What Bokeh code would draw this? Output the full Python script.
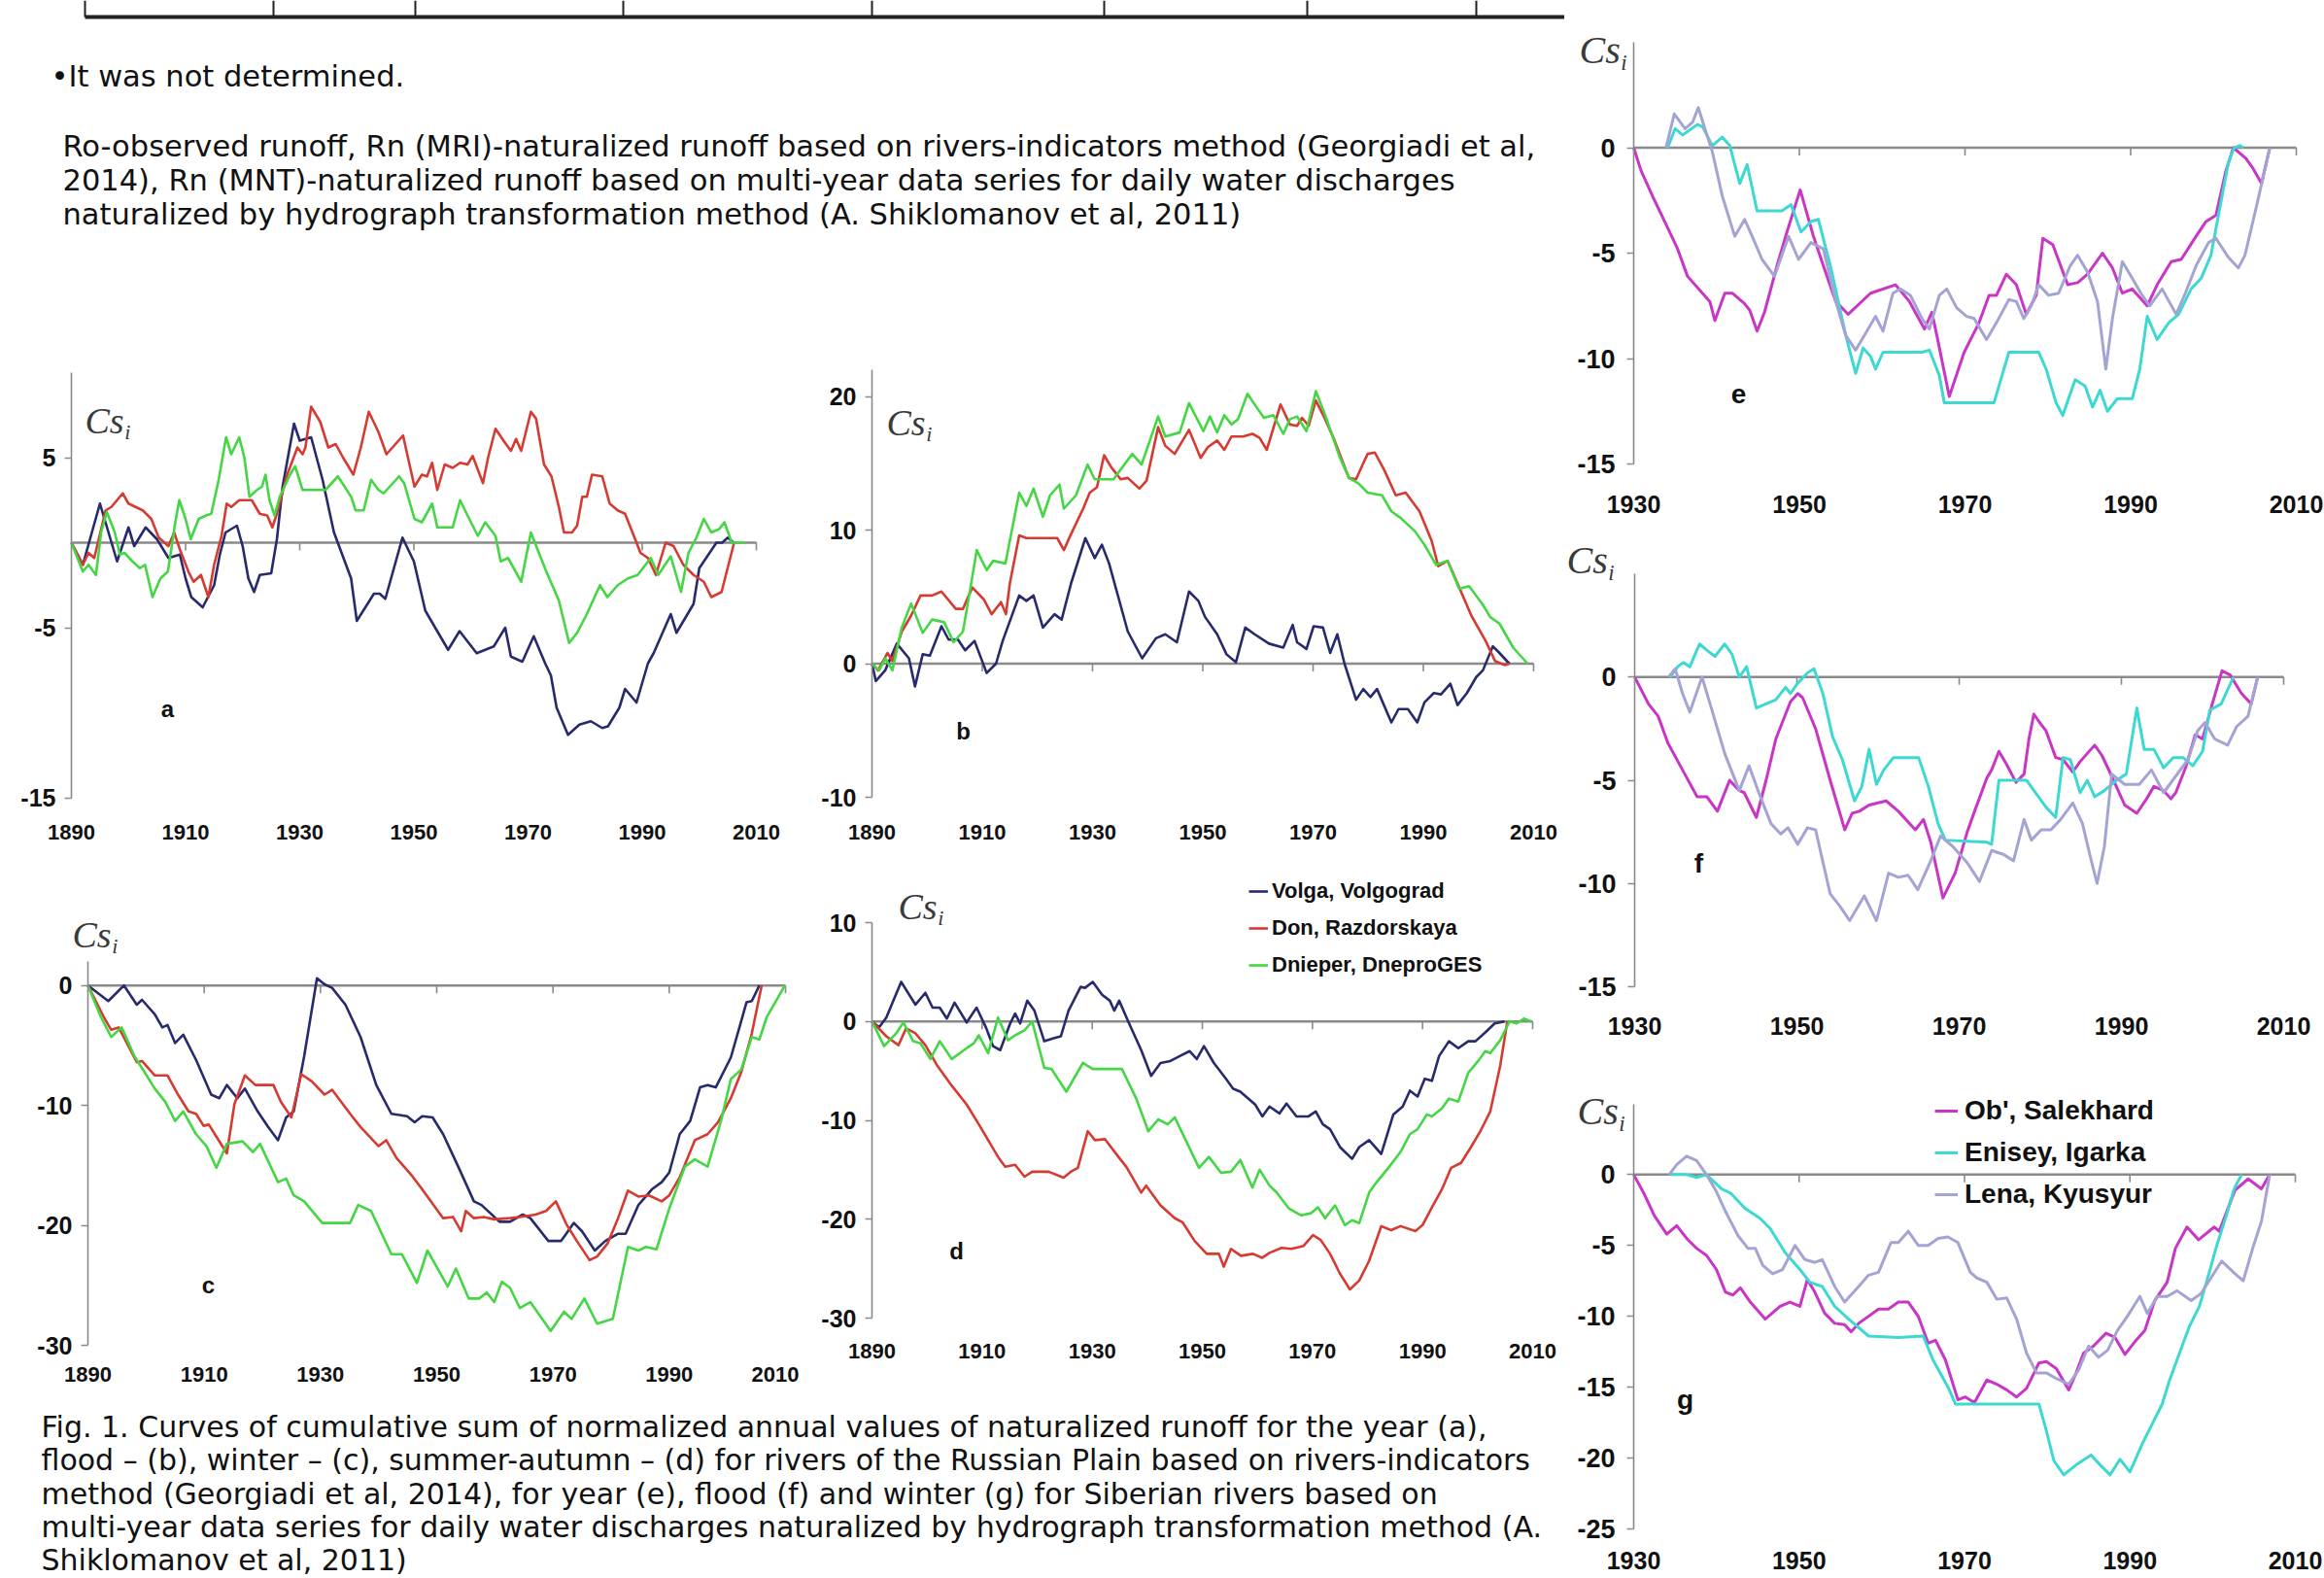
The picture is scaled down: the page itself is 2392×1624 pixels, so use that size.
from bokeh.plotting import figure
from bokeh.models import Range1d, FixedTicker, Label, Legend, LegendItem
from bokeh.layouts import row, column
from bokeh.embed import file_html
from bokeh.resources import INLINE
from bokeh.core.properties import value

# ---------------------------------------------------------------- data
rp_xticks = [1890, 1910, 1930, 1950, 1970, 1990, 2010]
sib_xticks = [1930, 1950, 1970, 1990, 2010]
a_yticks = [-15, -5, 5]
b_yticks = [-10, 0, 10, 20]
c_yticks = [-30, -20, -10, 0]
d_yticks = [-30, -20, -10, 0, 10]
e_yticks = [-15, -10, -5, 0]
f_yticks = [-15, -10, -5, 0]
g_yticks = [-25, -20, -15, -10, -5, 0]

rp_names = ["Volga, Volgograd", "Don, Razdorskaya", "Dnieper, DneproGES"]
sib_names = ["Ob', Salekhard", "Enisey, Igarka", "Lena, Kyusyur"]

# (a) year
a_volga = [(1890,0),(1892,-1.3),(1895,2.3),(1898,-1.1),(1900,0.9),(1901,-0.2),(1903,0.9),(1905,0.2),(1907,-0.9),(1909,-0.7),
           (1910,-2.1),(1911,-3.2),(1913,-3.8),(1915,-2.5),(1916,-0.7),(1917,0.6),(1919,1.0),(1920,-0.2),(1921,-2.1),(1922,-2.9),
           (1923,-1.9),(1925,-1.8),(1926,0.2),(1927,3.3),(1929,7.0),(1930,6.0),(1932,6.2),(1934,3.7),(1936,0.6),(1939,-2.1),
           (1940,-4.6),(1943,-3.0),(1944,-3.0),(1945,-3.3),(1948,0.3),(1950,-1.1),(1952,-4.0),(1956,-6.3),(1958,-5.2),(1961,-6.5),
           (1964,-6.1),(1966,-5.0),(1967,-6.7),(1969,-7.0),(1971,-5.5),(1973,-7.1),(1974,-7.8),(1975,-9.7),(1977,-11.3),(1979,-10.7),
           (1981,-10.5),(1983,-10.9),(1984,-10.8),(1986,-9.7),(1987,-8.6),(1989,-9.4),(1991,-7.1),(1992,-6.5),(1995,-4.2),(1996,-5.3),
           (1999,-3.6),(2000,-1.5),(2003,0.0),(2004,0.0),(2005,0.3),(2006,0.0)]
a_don = [(1890,0),(1892,-1.3),(1893,-0.6),(1894,-0.9),(1896,1.9),(1897,2.1),(1899,2.9),(1900,2.3),(1902.5,1.9),(1904,1.4),
         (1905.3,0.3),(1907,-0.2),(1908,0.6),(1909,-0.4),(1910.5,-1.7),(1911.4,-2.3),(1912.7,-1.9),(1914,-3.2),(1915,-1.3),(1916.3,0.4),
         (1917.2,2.3),(1918,2.1),(1919.4,2.5),(1921.6,2.5),(1923,1.7),(1924.3,1.6),(1925.2,0.9),(1926,1.7),(1927.8,4.0),(1929.6,5.6),
         (1930.5,5.2),(1931,5.6),(1932,8.0),(1933.6,7.1),(1935,5.6),(1936.3,5.8),(1937.6,5.0),(1939.4,4.0),(1940.7,5.6),(1942.1,7.7),
         (1943.8,6.5),(1945.2,5.2),(1948.1,6.3),(1950.1,3.3),(1951.4,4.0),(1952.3,3.9),(1953.2,4.7),(1954.1,3.1),(1955.4,4.6),(1956.8,4.4),
         (1958.1,4.7),(1959.4,4.6),(1960.3,5.1),(1962.1,3.5),(1963,5.0),(1964.3,6.7),(1965.7,6.0),(1967,5.4),(1967.9,6.1),(1968.8,5.4),
         (1970.5,7.7),(1971.4,7.3),(1972.8,4.6),(1974.1,3.9),(1975.4,2.1),(1976.3,0.6),(1977.7,0.6),(1978.6,1.0),(1979.5,2.7),(1980.3,2.7),
         (1981.2,4.0),(1983,3.9),(1984.3,2.3),(1985.7,1.9),(1987,1.7),(1988.3,0.6),(1989.7,-0.6),(1991,-0.9),(1992.4,-1.9),(1994.1,0.0),
         (1995.5,-0.2),(1997.2,-1.3),(1999,-1.9),(2000.8,-2.3),(2002.1,-3.2),(2003.9,-2.9),(2006.1,0.0)]
a_dnieper = [(1890,0),(1892,-1.7),(1893,-1.3),(1894.3,-1.9),(1895.2,0.6),(1896.2,1.8),(1897.6,0.6),(1898.5,-0.7),(1899.3,-0.6),(1900.7,-1.1),
             (1902,-1.5),(1902.9,-1.3),(1904.2,-3.2),(1905.6,-2.1),(1906.9,-1.7),(1908.2,1.2),(1908.9,2.5),(1910,1.4),(1910.9,0.2),(1912.3,1.4),
             (1913.6,1.6),(1914.5,1.7),(1915.8,3.7),(1917.1,6.2),(1918,5.2),(1919.4,6.2),(1920.3,5.0),(1921.2,2.7),(1922.5,3.1),(1923.4,3.3),
             (1924,4.0),(1924.7,2.5),(1925.6,1.6),(1926.5,2.7),(1928.3,4.0),(1929.2,4.5),(1930.5,3.1),(1934.5,3.1),(1936.7,3.9),(1939,2.7),
             (1939.8,1.9),(1941.2,1.9),(1942.5,3.7),(1943.8,3.1),(1944.7,2.9),(1947.4,3.9),(1948.3,3.5),(1950.1,1.4),(1951.4,1.2),(1953.2,2.3),
             (1954.1,0.9),(1956.8,0.9),(1958.1,2.5),(1959.4,1.6),(1961.2,0.4),(1962.5,1.2),(1964.3,0.4),(1965.2,-1.1),(1966.5,-0.9),(1968.8,-2.3),
             (1970.5,0.6),(1971.9,-0.6),(1973.2,-1.7),(1975.4,-3.4),(1977.2,-5.9),(1978.6,-5.3),(1980.3,-4.2),(1982.6,-2.5),(1983.9,-3.2),(1985.7,-2.5),
             (1987.5,-2.1),(1989.2,-1.9),(1991.5,-0.9),(1992.8,-1.9),(1995,-0.8),(1996.8,-2.9),(1998.1,-0.6),(1999.5,0.3),(2000.8,1.4),(2002.1,0.6),
             (2003.5,0.8),(2004.4,1.2),(2005.7,0.0),(2008,0.0)]

# (b) flood
b_volga = [(1890,0),(1890.7,-1.3),(1892.4,-0.5),(1894.5,1.5),(1896.7,0.4),(1897.8,-1.7),(1899.2,0.7),(1900.5,0.6),(1902.6,2.8),(1903.9,1.8),
           (1905.6,1.8),(1906.9,1.0),(1908.6,1.7),(1910.8,-0.7),(1912.5,0.0),(1913.7,1.7),(1916.7,5.1),(1918,4.7),(1919.3,5.1),(1921,2.7),
           (1923.1,3.7),(1924.4,3.3),(1926.1,6.0),(1928.7,9.4),(1930.4,7.9),(1931.7,8.9),(1933,7.5),(1936.4,2.4),(1939,0.4),(1941.5,1.9),
           (1943.2,2.2),(1945.3,1.6),(1947.5,5.4),(1949.2,4.7),(1950.4,3.5),(1952.6,2.2),(1954.3,0.7),(1956,0.1),(1957.7,2.7),(1959.4,2.2),
           (1962,1.5),(1964.6,1.2),(1966.3,2.9),(1967.1,1.6),(1968.8,1.1),(1970.1,2.8),(1971.8,2.7),(1973.1,0.8),(1974.4,2.2),(1975.7,0.0),
           (1977.8,-2.7),(1979.1,-1.9),(1980.4,-2.5),(1981.6,-1.9),(1984.2,-4.4),(1985.5,-3.4),(1987.2,-3.4),(1988.9,-4.4),(1990.2,-2.9),(1991.9,-2.2),
           (1993.2,-2.3),(1994.9,-1.5),(1996.2,-3.1),(1997.9,-2.2),(1999.6,-1.0),(2000.8,-0.5),(2002.6,1.3),(2003.8,0.8),(2005.6,0.0)]
b_don = [(1890,0),(1891.1,-0.5),(1892.8,0.8),(1893.7,0.2),(1895.4,2.4),(1897.1,3.6),(1898.8,5.1),(1900.9,5.1),(1902.6,5.4),(1905.2,4.1),
         (1906.5,4.1),(1908.2,5.7),(1910.3,4.8),(1911.7,3.7),(1913.4,4.6),(1914.3,3.7),(1915,6.0),(1916.7,9.6),(1918,9.4),(1923.6,9.4),
         (1924.8,8.5),(1926.1,9.7),(1928.3,11.6),(1929.5,12.8),(1930.8,13.2),(1932.1,15.6),(1933.4,14.7),(1935.1,13.8),(1936.4,13.9),(1938.5,13.1),
         (1939.8,13.7),(1941.9,17.7),(1943.2,16.3),(1944.9,15.7),(1947.5,17.5),(1949.6,15.4),(1950.9,16.2),(1952.6,16.7),(1953.9,16.0),(1955.2,17.0),
         (1957.3,17.0),(1959,17.2),(1960.3,16.9),(1961.6,16.0),(1964.1,19.4),(1965.8,17.9),(1967.1,17.8),(1968,18.4),(1969.2,17.8),(1970.5,19.7),
         (1972.2,18.3),(1973.9,16.7),(1976.5,13.9),(1977.8,13.8),(1979.1,15.0),(1979.9,15.7),(1981.2,15.8),(1982.9,14.5),(1985,12.6),(1986.8,12.8),
         (1989.3,11.4),(1991.5,9.2),(1992.7,7.3),(1994.4,7.7),(1996.2,6.0),(1998.7,3.6),(2001.3,1.7),(2003,0.2),(2004.7,-0.1),(2005.6,0.0)]
b_dnieper = [(1890,0),(1891.3,-0.5),(1892.4,0.4),(1893.7,-0.5),(1895.4,2.7),(1897.1,4.5),(1899.2,2.3),(1900.9,3.3),(1903.1,3.1),(1904.8,1.6),
             (1906.5,2.4),(1908.2,6.5),(1909,8.5),(1910.8,7.0),(1912,7.7),(1914.2,7.5),(1916.7,12.8),(1918,11.8),(1919.3,13.1),(1921,11.0),
             (1922.3,12.6),(1924,13.4),(1924.8,11.6),(1927,12.6),(1929.1,14.9),(1930.4,13.8),(1933.8,13.8),(1937.2,15.7),(1938.9,14.9),(1941.9,18.5),
             (1943.2,17.0),(1945.8,17.3),(1947.5,19.5),(1950.1,17.4),(1951.3,18.5),(1952.6,17.3),(1953.9,18.6),(1955.2,17.9),(1956.4,18.3),(1958.1,20.2),
             (1959.9,19.1),(1961.1,18.4),(1962.8,18.6),(1964.6,17.2),(1965.8,18.3),(1967.1,18.5),(1968.8,17.4),(1970.5,20.4),(1972.2,18.6),(1974.8,15.5),
             (1976.5,13.9),(1978.2,13.5),(1979.9,12.8),(1982.5,12.6),(1984.2,11.4),(1985.9,10.9),(1988.5,9.9),(1990.2,8.9),(1992.3,7.4),(1994.4,7.7),
             (1996.5,5.6),(1998.3,5.8),(2000.8,4.4),(2002.1,3.5),(2003.8,3.0),(2006.3,1.2),(2008.9,0.0)]

# (c) winter
c_volga = [(1890,0),(1893.5,-1.3),(1896.2,0.0),(1898.4,-1.6),(1899.3,-1.2),(1901.5,-2.4),(1902.8,-3.5),(1903.7,-3.3),(1905,-4.8),(1906.4,-4.1),
           (1908.6,-6.2),(1911.2,-9.1),(1912.6,-9.4),(1913.9,-8.3),(1915.7,-9.4),(1917,-8.6),(1919.2,-10.5),(1921,-11.8),(1922.7,-12.9),(1924.1,-11.0),
           (1925.4,-10.5),(1927.2,-5.9),(1929.4,0.6),(1930.7,0.1),(1932,-0.2),(1934.3,-1.6),(1936.9,-4.3),(1939.6,-8.3),(1942.2,-10.7),(1944.9,-10.9),
           (1946.2,-11.4),(1947.5,-10.9),(1949.3,-11.0),(1951.1,-12.4),(1953.7,-15.1),(1956.4,-18.0),(1957.7,-18.3),(1960.8,-19.7),(1962.6,-19.7),(1964.8,-19.1),
           (1966.1,-19.4),(1969.2,-21.3),(1971.4,-21.3),(1973.6,-19.8),(1975,-20.5),(1977.2,-22.1),(1979,-21.3),(1981.2,-20.7),(1982.5,-20.7),(1984.7,-18.3),
           (1987,-17.0),(1988.7,-16.4),(1990,-15.6),(1991.8,-12.4),(1993.6,-11.3),(1995.3,-8.5),(1996.6,-8.3),(1998,-8.5),(2000.6,-6.0),(2003.3,-1.4),
           (2004.2,-1.3),(2005.5,0.0)]
c_don = [(1890,0),(1892.7,-2.6),(1894,-3.7),(1895.3,-3.5),(1898.4,-6.4),(1899.3,-6.3),(1901.5,-7.5),(1903.7,-7.5),(1905.5,-9.1),(1907.3,-10.5),
         (1908.6,-10.7),(1909.9,-11.7),(1910.8,-11.6),(1912.1,-12.6),(1913.9,-14.0),(1915.2,-9.9),(1917,-7.5),(1918.8,-8.3),(1921.9,-8.3),(1923.2,-9.7),
         (1925,-11.0),(1926.7,-7.4),(1928.5,-8.0),(1930.7,-9.1),(1932,-8.7),(1935.1,-10.7),(1936.9,-11.8),(1940,-13.4),(1941.3,-12.9),(1943.1,-14.4),
         (1945.8,-15.9),(1947.5,-17.0),(1951.1,-19.4),(1952.8,-19.3),(1954.2,-20.5),(1955,-18.8),(1956.4,-19.4),(1958.1,-19.3),(1959.9,-19.5),(1962.6,-19.4),
         (1964.3,-19.3),(1967,-19.1),(1968.8,-18.8),(1970.5,-18.0),(1972.3,-19.9),(1974.1,-21.3),(1976.3,-22.9),(1977.6,-22.6),(1979.4,-21.5),(1981.2,-19.4),
         (1982.9,-17.1),(1984.7,-17.6),(1986.5,-17.5),(1988.7,-18.0),(1990,-17.5),(1991.8,-16.0),(1994.4,-12.9),(1996.6,-12.4),(1998.4,-11.4),(2000.6,-9.4),
         (2002.4,-7.2),(2004.2,-4.0),(2005.9,0.0)]
c_dnieper = [(1890,0),(1892.2,-2.6),(1894,-4.3),(1895.8,-3.5),(1898,-5.9),(1899.7,-7.2),(1901.5,-8.6),(1903.3,-9.7),(1905,-11.3),(1906.4,-10.5),
             (1908.6,-12.4),(1910.4,-13.4),(1912.1,-15.2),(1913.9,-13.2),(1916.6,-13.0),(1918.4,-13.9),(1919.6,-13.2),(1922.7,-16.4),(1924.1,-16.1),(1925.4,-17.5),
             (1927.2,-18.0),(1930.3,-19.8),(1935.1,-19.8),(1936.5,-18.3),(1938.7,-18.8),(1942.2,-22.4),(1944,-22.4),(1946.6,-24.8),(1948.4,-22.1),(1951.9,-25.1),
             (1953.3,-23.6),(1955.5,-26.1),(1957.3,-26.1),(1958.6,-25.6),(1959.9,-26.4),(1961.2,-24.7),(1962.6,-25.2),(1964.3,-26.9),(1966.1,-26.4),(1969.6,-28.8),
             (1971.9,-27.2),(1973.2,-27.8),(1975.4,-26.1),(1977.6,-28.2),(1980.3,-27.8),(1982.9,-21.8),(1984.7,-22.1),(1986,-21.8),(1987.8,-22.0),(1990,-18.6),
             (1992.7,-15.1),(1994.4,-14.5),(1996.6,-15.1),(1998.9,-11.3),(2000.6,-7.8),(2002.4,-7.0),(2004.2,-4.3),(2005.5,-4.5),(2006.8,-2.6),(2009.9,0.0)]

# (d) summer-autumn
d_volga = [(1890,0),(1891.3,-0.6),(1892.6,0.4),(1895.3,4.0),(1897.9,1.7),(1899.7,2.9),(1901,1.4),(1902.3,1.4),(1903.6,0.3),(1905,1.9),
           (1907.2,-0.1),(1909,1.4),(1910.7,-0.6),(1912,-2.5),(1913.3,-2.9),(1915.1,-0.2),(1916,0.8),(1916.9,-0.2),(1918.2,2.1),(1919.5,1.1),
           (1921.3,-2.0),(1923,-1.7),(1924.3,-1.5),(1925.7,1.1),(1927.9,3.5),(1928.7,3.4),(1930.1,4.0),(1931.8,2.7),(1933.2,2.1),(1934,1.1),
           (1934.9,2.1),(1936.7,-0.2),(1938.9,-2.9),(1940.7,-5.5),(1942.4,-4.2),(1944.2,-4.0),(1945.9,-3.5),(1947.7,-3.0),(1949,-3.8),(1950.3,-2.5),
           (1952.1,-4.2),(1954.3,-5.8),(1955.6,-6.8),(1956.9,-7.1),(1959.6,-8.4),(1960.9,-9.6),(1962.2,-8.6),(1964,-9.3),(1965.3,-8.3),(1967.1,-9.6),
           (1969.3,-9.6),(1970.6,-9.1),(1971.9,-10.4),(1973.2,-10.9),(1975,-12.7),(1977.2,-13.9),(1978.5,-12.7),(1980.3,-12.0),(1982.5,-13.4),(1984.7,-9.4),
           (1986.4,-8.6),(1987.7,-7.0),(1989.1,-7.6),(1990.4,-5.8),(1991.7,-6.0),(1993,-3.5),(1994.8,-2.0),(1996.5,-2.7),(1998.3,-2.0),(1999.6,-2.0),
           (2001.4,-1.1),(2003.1,-0.2),(2004.9,0.0)]
d_don = [(1890,0),(1892.6,-1.5),(1894.8,-2.4),(1896.2,-0.7),(1897.9,-1.2),(1899.7,-2.4),(1901.9,-4.5),(1904.5,-6.5),(1907.2,-8.4),(1909.4,-10.4),
         (1911.1,-12.0),(1912.9,-13.7),(1914.2,-14.7),(1916,-14.5),(1917.7,-15.7),(1919.1,-15.2),(1922.1,-15.2),(1924.8,-15.8),(1926.1,-15.2),(1927.4,-14.8),
         (1929.2,-11.1),(1930.5,-12.0),(1932.3,-11.9),(1934.5,-13.5),(1936.2,-14.7),(1938.9,-17.3),(1939.8,-16.6),(1942.4,-18.6),(1945,-19.9),(1946.4,-20.3),
         (1948.6,-22.2),(1950.8,-23.5),(1953,-23.5),(1953.9,-24.8),(1955.2,-23.0),(1957,-23.7),(1959.2,-23.5),(1960.9,-23.9),(1962.2,-23.4),(1964.4,-22.9),
         (1966.2,-23.0),(1968.4,-22.7),(1970.1,-21.6),(1971.5,-22.1),(1973.2,-23.5),(1975,-25.5),(1976.8,-27.1),(1978.5,-26.2),(1980.3,-24.2),(1982.5,-20.7),
         (1984.3,-21.1),(1986,-20.7),(1988.7,-21.2),(1990,-20.6),(1991.7,-18.8),(1993.5,-17.0),(1995.2,-14.8),(1997,-14.3),(1998.8,-12.7),(2000.5,-11.1),
         (2002.3,-9.1),(2004.1,-4.5),(2005.4,0.0)]
d_dnieper = [(1890,0),(1892.2,-2.5),(1894.4,-1.2),(1895.7,-0.1),(1897.5,-2.0),(1898.8,-2.2),(1900.6,-3.8),(1902.3,-2.0),(1904.5,-3.8),(1906.7,-2.9),
             (1908.5,-2.2),(1909.4,-1.4),(1911.1,-3.2),(1912.9,0.4),(1914.7,-1.9),(1916,-1.4),(1917.7,-0.9),(1919.1,0.0),(1921.3,-4.7),(1922.6,-4.8),
             (1925.3,-7.1),(1928.3,-4.2),(1930.1,-4.8),(1935.4,-4.8),(1938,-7.8),(1940.2,-11.1),(1942,-9.9),(1943.7,-10.4),(1945,-9.7),(1949.4,-14.8),
             (1951.2,-13.7),(1953.4,-15.3),(1955.2,-15.2),(1956.9,-14.0),(1959.1,-16.8),(1960.4,-15.0),(1962.2,-16.6),(1963.5,-17.3),(1965.7,-18.9),(1967.9,-19.6),
             (1969.7,-19.4),(1971,-18.8),(1972.3,-19.9),(1974.1,-18.6),(1975.9,-20.6),(1977.2,-20.1),(1978.5,-20.4),(1980.3,-17.3),(1981.6,-16.3),(1983.8,-14.8),
             (1986,-13.2),(1987.7,-11.4),(1989.1,-10.9),(1990.8,-9.4),(1991.7,-9.6),(1993.5,-8.8),(1994.8,-7.8),(1996.5,-8.1),(1998.3,-5.2),(2000.1,-4.0),
             (2001.4,-3.0),(2002.3,-3.2),(2004.1,-1.9),(2005.8,0.0),(2007.1,-0.2),(2008.4,0.3),(2009.7,0.0)]

# (e) year, Siberian rivers
e_ob = [(1930,0),(1930.9,-1.1),(1932.4,-2.4),(1934.1,-3.8),(1935.3,-4.8),(1936.5,-6.1),(1938.3,-6.9),(1939.2,-7.3),(1939.8,-8.2),(1941,-6.9),
        (1941.9,-6.9),(1943.4,-7.4),(1944,-7.7),(1944.9,-8.7),(1945.8,-7.8),(1947.3,-5.6),(1948.5,-4.0),(1950.1,-2.0),(1951.7,-4.2),(1952.9,-5.6),
        (1954.4,-7.3),(1955.9,-7.9),(1958.6,-6.9),(1961.6,-6.5),(1963.3,-7.3),(1965.1,-8.6),(1966,-7.8),(1966.6,-8.9),(1968.1,-11.8),(1969.9,-9.7),
        (1971.7,-8.3),(1972.9,-7.0),(1973.8,-7.0),(1975,-6.0),(1976.2,-6.5),(1977.4,-7.9),(1978.6,-7.0),(1979.4,-4.3),(1980.6,-4.6),(1982.4,-6.5),
        (1983.6,-6.4),(1984.8,-6.0),(1986.6,-5.0),(1987.8,-5.7),(1989,-6.9),(1990.2,-6.7),(1992,-7.5),(1993.2,-6.5),(1994.9,-5.4),(1996.1,-5.3),
        (1997.9,-4.2),(1999.1,-3.5),(2000.3,-3.2),(2001.5,-1.1),(2002.4,0.0),(2003.9,-0.5),(2004.8,-1.0),(2005.8,-1.7),(2006.8,0.0)]
e_enisey = [(1934.1,0),(1935,0.9),(1935.9,0.6),(1937.7,1.1),(1938.3,1.0),(1939.5,0.1),(1940.7,0.5),(1941.6,0.1),(1942.8,-1.7),(1943.7,-0.8),
            (1944.3,-1.9),(1944.9,-3.0),(1947.9,-3.0),(1949,-2.7),(1950.2,-4.0),(1951.4,-3.5),(1952.3,-3.4),(1953.8,-5.7),(1955.6,-8.9),(1956.8,-10.7),
            (1957.7,-9.5),(1958.6,-9.9),(1959.2,-10.5),(1960.1,-9.7),(1961.6,-9.7),(1964.8,-9.7),(1965.7,-9.6),(1966.9,-10.8),(1967.5,-12.1),(1973.5,-12.1),
            (1974.7,-10.5),(1975.3,-9.7),(1978.9,-9.7),(1979.8,-10.5),(1981,-12.1),(1981.8,-12.7),(1983.3,-11.0),(1984.5,-11.3),(1985.4,-12.3),(1986.3,-11.5),
            (1987.2,-12.5),(1988.4,-11.9),(1990.2,-11.9),(1991.1,-10.5),(1992,-8.0),(1993.2,-9.1),(1994.6,-8.3),(1995.8,-7.9),(1997.3,-6.7),(1998.5,-6.2),
            (1999.7,-5.1),(2000.6,-3.2),(2001.8,-0.7),(2002.5,0.0),(2003.2,0.1),(2003.6,0.0)]
e_lena = [(1933.9,0),(1934.9,1.6),(1936.2,0.9),(1937.1,1.2),(1937.8,1.9),(1938.6,0.9),(1939.5,-0.2),(1940.7,-2.3),(1942.2,-4.2),(1943.4,-3.4),
          (1944.3,-4.2),(1945.5,-5.3),(1947,-6.1),(1948.7,-4.2),(1949.9,-5.3),(1951.4,-4.5),(1952.9,-4.8),(1954.4,-7.3),(1955.6,-8.9),(1956.8,-9.6),
          (1958,-8.8),(1959.2,-8.0),(1960.1,-8.7),(1961.3,-6.9),(1962.2,-6.7),(1963.4,-7.0),(1964.8,-8.1),(1965.7,-8.6),(1966.9,-7.0),(1967.8,-6.7),
          (1969,-7.6),(1970.2,-8.0),(1971.1,-8.1),(1972.6,-9.1),(1973.8,-8.3),(1975.3,-7.2),(1976.2,-7.3),(1977.1,-8.1),(1978,-7.5),(1978.9,-6.5),
          (1980.1,-7.0),(1981.3,-6.9),(1982.7,-5.6),(1983.6,-5.1),(1984.8,-5.9),(1986,-7.3),(1987,-10.5),(1987.8,-8.1),(1989,-5.4),(1990.2,-6.2),
          (1991.4,-7.0),(1992.3,-7.5),(1993.8,-6.7),(1995.5,-7.9),(1996.6,-6.9),(1997.9,-5.6),(1999.4,-4.5),(2000.3,-4.3),(2001.8,-5.2),(2003,-5.7),
          (2003.8,-5.1),(2005.3,-2.6),(2006.8,0.0)]

# (f) flood, Siberian rivers
f_ob = [(1930,0),(1931.7,-1.3),(1932.9,-1.9),(1934.1,-3.2),(1935.9,-4.5),(1937.7,-5.8),(1938.9,-5.8),(1940.2,-6.5),(1941.7,-5.0),(1942.9,-5.5),
        (1943.5,-5.6),(1945,-6.8),(1946.2,-5.0),(1947.4,-3.0),(1949.2,-1.2),(1950.1,-0.8),(1950.7,-1.0),(1952.3,-2.5),(1954.1,-5.0),(1955.9,-7.4),
        (1956.8,-6.6),(1957.7,-6.5),(1958.9,-6.2),(1961,-6.0),(1962.5,-6.5),(1964.6,-7.4),(1965.6,-6.9),(1966.5,-8.0),(1968,-10.7),(1969.5,-9.5),
        (1971,-7.5),(1971.9,-6.5),(1973.4,-4.9),(1974,-4.5),(1974.9,-3.6),(1975.8,-4.2),(1977,-5.1),(1978,-4.7),(1978.6,-3.0),(1979.2,-1.8),
        (1980.1,-2.3),(1980.7,-2.6),(1981.9,-3.9),(1982.8,-4.0),(1984,-4.6),(1984.9,-4.1),(1986.7,-3.3),(1987.6,-3.8),(1988.8,-4.8),(1990.4,-6.2),
        (1991.9,-6.6),(1993.1,-5.9),(1994,-5.3),(1995.2,-5.5),(1996.1,-5.9),(1996.7,-5.6),(1997.9,-4.4),(1999.1,-2.8),(2000,-3.0),(2001.2,-1.3),
        (2002.4,0.3),(2003.4,0.1),(2004.8,-0.8),(2006,-1.3),(2006.8,0.0)]
f_enisey = [(1934.4,0),(1935.3,0.5),(1936,0.7),(1936.8,0.5),(1938,1.6),(1938.9,1.3),(1939.9,1.0),(1941.1,1.6),(1942,1.1),(1942.9,0.0),
            (1943.8,0.5),(1945,-1.5),(1946.2,-1.3),(1947.4,-1.1),(1948.6,-0.5),(1949.2,-0.8),(1950.1,-0.3),(1951.3,0.2),(1952.1,0.4),(1953.2,-0.8),
            (1954.4,-2.9),(1955.6,-4.0),(1957.1,-6.0),(1958,-5.3),(1958.9,-3.5),(1959.8,-5.2),(1960.7,-4.5),(1961.9,-3.9),(1965,-3.9),(1966.2,-5.3),
            (1967.4,-7.1),(1968.3,-7.9),(1973.4,-8.0),(1974,-8.1),(1974.9,-5.0),(1978.3,-5.0),(1980.7,-6.3),(1981.9,-6.8),(1982.8,-3.9),(1983.7,-4.0),
            (1984.9,-5.6),(1985.8,-5.0),(1986.7,-5.8),(1987.9,-5.5),(1989.4,-5.0),(1990.6,-4.7),(1991.9,-1.5),(1992.8,-3.5),(1994,-3.5),(1995.2,-4.4),
            (1996.4,-3.9),(1997.6,-3.9),(1998.8,-4.3),(2000,-3.6),(2000.9,-1.6),(2002.3,-1.3),(2003.8,0.0)]
f_lena = [(1934.2,0),(1935,0.4),(1935.9,-0.8),(1936.8,-1.7),(1938.3,0.0),(1939.6,-1.7),(1941.1,-3.7),(1942.9,-5.5),(1944.1,-4.3),(1945.3,-5.6),
          (1946.8,-7.1),(1948,-7.6),(1948.9,-7.3),(1950.1,-8.1),(1951.3,-7.3),(1952.3,-7.4),(1954.1,-10.5),(1955.3,-11.1),(1956.5,-11.8),(1958.3,-10.6),
          (1959.8,-11.8),(1961.3,-9.5),(1962.5,-9.7),(1963.7,-9.6),(1964.9,-10.3),(1966.5,-8.9),(1967.7,-7.7),(1969.2,-8.2),(1971,-9.0),(1972.5,-9.9),
          (1974,-8.4),(1975.5,-8.6),(1976.7,-8.9),(1978,-6.9),(1978.9,-7.9),(1980.1,-7.4),(1981.3,-7.4),(1982.5,-6.9),(1984,-6.1),(1985.2,-7.1),
          (1986.1,-8.6),(1987,-10.0),(1987.9,-8.2),(1988.8,-4.7),(1990.4,-5.2),(1992.2,-5.2),(1993.7,-4.5),(1995.2,-5.6),(1996.7,-4.8),(1998.2,-4.0),
          (1999.4,-2.6),(2000.3,-2.2),(2001.5,-3.0),(2003.1,-3.3),(2004.2,-2.4),(2005.6,-1.9),(2006.8,0.0)]

# (g) winter, Siberian rivers
g_ob = [(1930,0),(1931.3,-1.4),(1932.5,-2.9),(1934,-4.2),(1935.2,-3.6),(1936.4,-4.5),(1937.6,-5.2),(1938.8,-5.7),(1940,-6.7),(1941.1,-8.3),
        (1942,-8.5),(1942.9,-8.0),(1944.1,-9.0),(1945.9,-10.2),(1947.7,-9.3),(1948.9,-9.0),(1950.1,-9.3),(1951,-7.4),(1951.9,-8.3),(1953.1,-9.8),
        (1954.3,-10.5),(1955.5,-10.6),(1956.3,-11.1),(1957.2,-10.5),(1958.4,-10.0),(1959.6,-9.5),(1960.8,-9.5),(1962,-9.0),(1963.2,-9.0),(1964.4,-10.0),
        (1965.6,-11.9),(1966.5,-11.7),(1967.7,-13.1),(1969.2,-15.9),(1970.1,-15.7),(1971.2,-16.1),(1972.7,-14.5),(1973.9,-14.8),(1975.1,-15.2),(1976.3,-15.7),
        (1977.5,-15.1),(1979,-13.3),(1979.9,-13.2),(1981.1,-13.7),(1982.6,-15.2),(1983.5,-14.0),(1984.4,-12.6),(1985.6,-12.1),(1987.1,-11.2),(1988.2,-11.5),
        (1989.4,-12.7),(1990.6,-11.8),(1991.8,-11.0),(1993,-8.9),(1994.5,-7.6),(1995.5,-5.2),(1996.9,-3.7),(1998.3,-4.6),(2000.2,-3.7),(2000.8,-4.0),
        (2002.7,-1.1),(2004.3,-0.3),(2005.9,-1.0),(2006.9,0.0)]
g_enisey = [(1934.3,0),(1936.4,0.0),(1937.6,-0.2),(1938.8,0.0),(1940.6,-1.0),(1941.7,-1.3),(1943.5,-2.4),(1945.3,-3.1),(1946.5,-3.8),(1948.3,-5.5),
            (1950.1,-6.7),(1951.3,-7.6),(1952.8,-7.9),(1954.3,-9.3),(1956,-10.2),(1958.4,-11.4),(1962,-11.5),(1965,-11.4),(1966.2,-13.1),(1968,-15.0),
            (1968.9,-16.2),(1979,-16.2),(1979.9,-18.1),(1980.8,-20.2),(1982,-21.2),(1983.5,-20.5),(1985.3,-19.8),(1986.4,-20.5),(1987.6,-21.2),(1988.8,-20.1),
            (1990,-21.0),(1991.5,-19.0),(1992.7,-17.6),(1993.9,-16.2),(1994.8,-14.5),(1996,-12.6),(1997.2,-10.7),(1998.4,-9.3),(1999.6,-6.9),(2000.5,-5.0),
            (2001.6,-3.0),(2002.6,-1.0),(2003.5,0.0)]
g_lena = [(1934.3,0),(1935.2,0.7),(1936.4,1.3),(1937.6,1.0),(1938.8,0.0),(1940,-1.2),(1941.1,-2.6),(1942.6,-4.3),(1943.8,-5.2),(1944.7,-5.2),
          (1945.6,-6.4),(1946.8,-7.0),(1948,-6.7),(1949.5,-5.0),(1950.7,-6.0),(1951.9,-6.2),(1952.8,-6.0),(1954.3,-7.9),(1955.5,-9.0),(1957.2,-7.9),
          (1958.4,-7.1),(1959.6,-6.9),(1961.1,-4.8),(1962,-4.8),(1963.2,-4.0),(1964.4,-5.0),(1965.6,-5.0),(1966.8,-4.5),(1968,-4.4),(1969.2,-4.8),
          (1970.7,-6.9),(1971.5,-7.3),(1972.7,-7.6),(1973.9,-8.8),(1975.1,-8.7),(1976.3,-10.2),(1977.5,-12.6),(1978.7,-14.0),(1979.9,-14.0),(1981.1,-14.4),
          (1982.6,-14.8),(1983.8,-13.8),(1985,-12.1),(1986.2,-12.9),(1987.3,-12.4),(1988.5,-11.0),(1989.7,-10.0),(1991.2,-8.6),(1992.1,-9.8),(1993.3,-8.6),
          (1994.5,-8.6),(1995.7,-8.2),(1997.4,-8.9),(1998.6,-8.4),(2001.1,-6.1),(2002.7,-7.0),(2003.7,-7.5),(2004.9,-5.1),(2005.9,-3.3),(2006.9,0.0)]

# ---------------------------------------------------------------- styles
RP_COLORS = ["#272a6c", "#d63b32", "#44d644"]
SIB_COLORS = ["#c936c6", "#3ed8d2", "#a4a4d4"]
AXIS_GRAY = "#8a8a8a"
TICK_FONT = "Liberation Sans"
TEXT_FONT = "DejaVu Sans"

# figure rectangle on the page and the pixel box of the axes (left, right, top, bottom)
GA = dict(rect=(0, 350, 822, 530), area=(73, 778, 383, 820.5), xr=(1890, 2010), yr=(-15, 10))
GB = dict(rect=(822, 350, 788, 530), area=(897, 1578, 380, 820), xr=(1890, 2010), yr=(-10, 22))
GC = dict(rect=(0, 880, 822, 550), area=(90, 808, 989, 1384), xr=(1890, 2010), yr=(-30, 2))
GD = dict(rect=(822, 880, 788, 550), area=(897, 1577, 949, 1356), xr=(1890, 2010), yr=(-30, 10))
GE = dict(rect=(1610, 0, 782, 545), area=(1681, 2363, 43, 477), xr=(1930, 2010), yr=(-15, 5))
GF = dict(rect=(1610, 545, 782, 540), area=(1682, 2350, 590, 1015), xr=(1930, 2010), yr=(-15, 5))
GG = dict(rect=(1610, 1085, 782, 539), area=(1681, 2362, 1135.5, 1572.7), xr=(1930, 2010), yr=(-25, 5))


def scales(g):
    fl, fr, ft, fb = g["area"]
    kx = (fr - fl) / (g["xr"][1] - g["xr"][0])
    ky = (fb - ft) / (g["yr"][1] - g["yr"][0])
    return kx, ky


def to_data(g, px, py):
    fl, fr, ft, fb = g["area"]
    kx, ky = scales(g)
    return g["xr"][0] + (px - fl) / kx, g["yr"][1] - (py - ft) / ky


def make_panel(g, series, colors, lw, xticks, yticks, xfs, yfs, ystand, xstand):
    X0, Y0, W, H = g["rect"]
    fl, fr, ft, fb = g["area"]
    kx, ky = scales(g)
    x_start = g["xr"][0] - (fl - X0) / kx
    x_end = g["xr"][1] + (X0 + W - fr) / kx
    y_end = g["yr"][1] + (ft - Y0) / ky
    y_start = g["yr"][0] - (Y0 + H - fb) / ky
    p = figure(width=W, height=H, x_range=Range1d(x_start, x_end), y_range=Range1d(y_start, y_end),
               output_backend="svg", toolbar_location=None,
               min_border=0, min_border_left=0, min_border_right=0, min_border_top=0, min_border_bottom=0,
               background_fill_color="white", border_fill_color="white")
    p.outline_line_color = None
    p.grid.visible = False
    ya = p.yaxis[0]
    ya.fixed_location = g["xr"][0]
    ya.bounds = g["yr"]
    ya.ticker = FixedTicker(ticks=yticks)
    ya.major_label_overrides = {t: str(t) for t in yticks}
    ya.axis_line_color = AXIS_GRAY
    ya.axis_line_width = 1.6
    ya.major_tick_line_color = AXIS_GRAY
    ya.major_tick_line_width = 1.6
    ya.major_tick_out = 7
    ya.major_tick_in = 0
    ya.minor_tick_line_color = None
    ya.major_label_text_font = TICK_FONT
    ya.major_label_text_font_style = "bold"
    ya.major_label_text_font_size = f"{yfs}px"
    ya.major_label_text_color = "#111111"
    ya.major_label_standoff = ystand
    xa = p.xaxis[0]
    xa.fixed_location = g["yr"][0]
    xa.bounds = g["xr"]
    xa.ticker = FixedTicker(ticks=xticks)
    xa.axis_line_color = None
    xa.major_tick_line_color = None
    xa.minor_tick_line_color = None
    xa.major_tick_out = 0
    xa.major_tick_in = 0
    xa.major_label_text_font = TICK_FONT
    xa.major_label_text_font_style = "bold"
    xa.major_label_text_font_size = f"{xfs}px"
    xa.major_label_text_color = "#111111"
    xa.major_label_standoff = xstand
    # horizontal axis drawn at zero across the axis range, with small ticks below it
    p.segment(x0=[g["xr"][0]], y0=[0], x1=[g["xr"][1]], y1=[0], line_color=AXIS_GRAY, line_width=2.5)
    dlen = 8.0 / ky
    xt = xticks[1:]
    p.segment(x0=xt, y0=[0] * len(xt), x1=xt, y1=[-dlen] * len(xt), line_color=AXIS_GRAY, line_width=1.6)
    rends = []
    for pts, c in zip(series, colors):
        xs = [q[0] for q in pts]
        ys = [q[1] for q in pts]
        rends.append(p.line(xs, ys, line_color=c, line_width=lw, line_join="round"))
    return p, rends


def add_cs(p, g, px, py, size):
    X, Y = to_data(g, px, py)
    p.add_layout(Label(x=X, y=Y, text="Cs", text_font="Liberation Serif", text_font_style="italic",
                       text_font_size=f"{size}px", text_color="#3a3a3a", text_baseline="middle", text_align="left"))
    p.add_layout(Label(x=X, y=Y, x_offset=size * 1.07, y_offset=-size * 0.32, text="i",
                       text_font="Liberation Serif", text_font_style="italic",
                       text_font_size=f"{int(size * 0.58)}px", text_color="#3a3a3a",
                       text_baseline="middle", text_align="left"))


def add_letter(p, g, px, py, letter, size):
    X, Y = to_data(g, px, py)
    p.add_layout(Label(x=X, y=Y, text=letter, text_font=TICK_FONT, text_font_style="bold",
                       text_font_size=f"{size}px", text_color="#111111",
                       text_align="center", text_baseline="middle"))


def add_legend(p, g, names, rends, glyph_left, first_center, fs, item_h, spacing, gw, standoff):
    X0, Y0, W, H = g["rect"]
    n = len(names)
    height = n * item_h + (n - 1) * spacing
    top = first_center - item_h / 2.0
    vx = glyph_left - X0
    vy = (Y0 + H) - (top + height)
    leg = Legend(items=[LegendItem(label=nm, renderers=[r]) for nm, r in zip(names, rends)],
                 location=(vx, vy), orientation="vertical", padding=0, margin=0, spacing=spacing,
                 glyph_width=gw, glyph_height=item_h, label_height=item_h, label_width=10,
                 label_standoff=standoff, label_text_font=TICK_FONT, label_text_font_style="bold",
                 label_text_font_size=f"{fs}px", label_text_color="#111111",
                 border_line_color=None, background_fill_alpha=0)
    p.add_layout(leg)


# ---------------------------------------------------------------- panels
pa, ra = make_panel(GA, [a_volga, a_don, a_dnieper], RP_COLORS, 2.6, rp_xticks, a_yticks, 22, 25, 9, 28)
add_cs(pa, GA, 87, 432, 38)
add_letter(pa, GA, 172, 729, "a", 24)

pb, rb = make_panel(GB, [b_volga, b_don, b_dnieper], RP_COLORS, 2.6, rp_xticks, b_yticks, 22, 25, 9, 28)
add_cs(pb, GB, 912, 434, 38)
add_letter(pb, GB, 991, 752, "b", 24)

pc, rc = make_panel(GC, [c_volga, c_don, c_dnieper], RP_COLORS, 2.6, rp_xticks, c_yticks, 22, 25, 9, 22)
add_cs(pc, GC, 74, 961, 38)
add_letter(pc, GC, 214, 1322, "c", 24)

pd, rd = make_panel(GD, [d_volga, d_don, d_dnieper], RP_COLORS, 2.6, rp_xticks, d_yticks, 22, 25, 9, 26)
add_cs(pd, GD, 924, 932, 38)
add_letter(pd, GD, 984, 1287, "d", 24)
add_legend(pd, GD, rp_names, rd, 1285, 917, 22, 26, 12, 20, 4)

pe, re_ = make_panel(GE, [e_ob, e_enisey, e_lena], SIB_COLORS, 3.0, sib_xticks, e_yticks, 25, 27, 12, 32)
add_cs(pe, GE, 1625, 51, 40)
add_letter(pe, GE, 1789, 405, "e", 28)

pf, rf = make_panel(GF, [f_ob, f_enisey, f_lena], SIB_COLORS, 3.0, sib_xticks, f_yticks, 25, 27, 12, 31)
add_cs(pf, GF, 1612, 576, 40)
add_letter(pf, GF, 1748, 888, "f", 28)

pg, rg = make_panel(GG, [g_ob, g_enisey, g_lena], SIB_COLORS, 3.0, sib_xticks, g_yticks, 25, 27, 12, 24)
add_cs(pg, GG, 1623, 1143, 40)
add_letter(pg, GG, 1734, 1440, "g", 28)
add_legend(pg, GG, sib_names, rg, 1991, 1142.6, 28, 32, 11, 24, 7)

# ---------------------------------------------------------------- text blocks
def text_block(w, h, x0, y0):
    p = figure(width=w, height=h, x_range=Range1d(x0, x0 + w), y_range=Range1d(y0 + h, y0),
               output_backend="svg", toolbar_location=None, x_axis_type=None, y_axis_type=None,
               min_border=0, min_border_left=0, min_border_right=0, min_border_top=0, min_border_bottom=0,
               background_fill_color="white", border_fill_color="white")
    p.outline_line_color = None
    p.grid.visible = False
    return p

top = text_block(1610, 350, 0, 0)
table_cols = [87, 281, 427, 641, 897, 1136, 1345, 1519]
top.segment(x0=table_cols, y0=[0] * len(table_cols), x1=table_cols, y1=[17] * len(table_cols),
            line_color="#222222", line_width=2)
top.segment(x0=[87], y0=[17], x1=[1610], y1=[17], line_color="#222222", line_width=4)
top_lines = ["\u2022It was not determined.",
             "Ro-observed runoff, Rn (MRI)-naturalized runoff based on rivers-indicators method (Georgiadi et al,",
             "2014), Rn (MNT)-naturalized runoff based on multi-year data series for daily water discharges",
             "naturalized by hydrograph transformation method (A. Shiklomanov et al, 2011)"]
top.text(x=[52, 64, 64, 64], y=[78, 150, 185, 220], text=top_lines,
         text_font=value(TEXT_FONT), text_font_size="30.5px", text_baseline="middle", text_align="left",
         text_color="#111111")

cap = text_block(1610, 194, 0, 1430)
cap_lines = ["Fig. 1. Curves of cumulative sum of normalized annual values of naturalized runoff for the year (a),",
             "flood \u2013 (b), winter \u2013 (c), summer-autumn \u2013 (d) for rivers of the Russian Plain based on rivers-indicators",
             "method (Georgiadi et al, 2014), for year (e), flood (f) and winter (g) for Siberian rivers based on",
             "multi-year data series for daily water discharges naturalized by hydrograph transformation method (A.",
             "Shiklomanov et al, 2011)"]
cap.text(x=[42] * 5, y=[1468, 1502, 1537, 1571, 1605], text=cap_lines,
         text_font=value(TEXT_FONT), text_font_size="30px", text_baseline="middle", text_align="left",
         text_color="#111111")

left = column(top, row(pa, pb, spacing=0), row(pc, pd, spacing=0), cap, spacing=0)
right = column(pe, pf, pg, spacing=0)
root = row(left, right, spacing=0)

open("out.html", "w").write(file_html(root, INLINE))
